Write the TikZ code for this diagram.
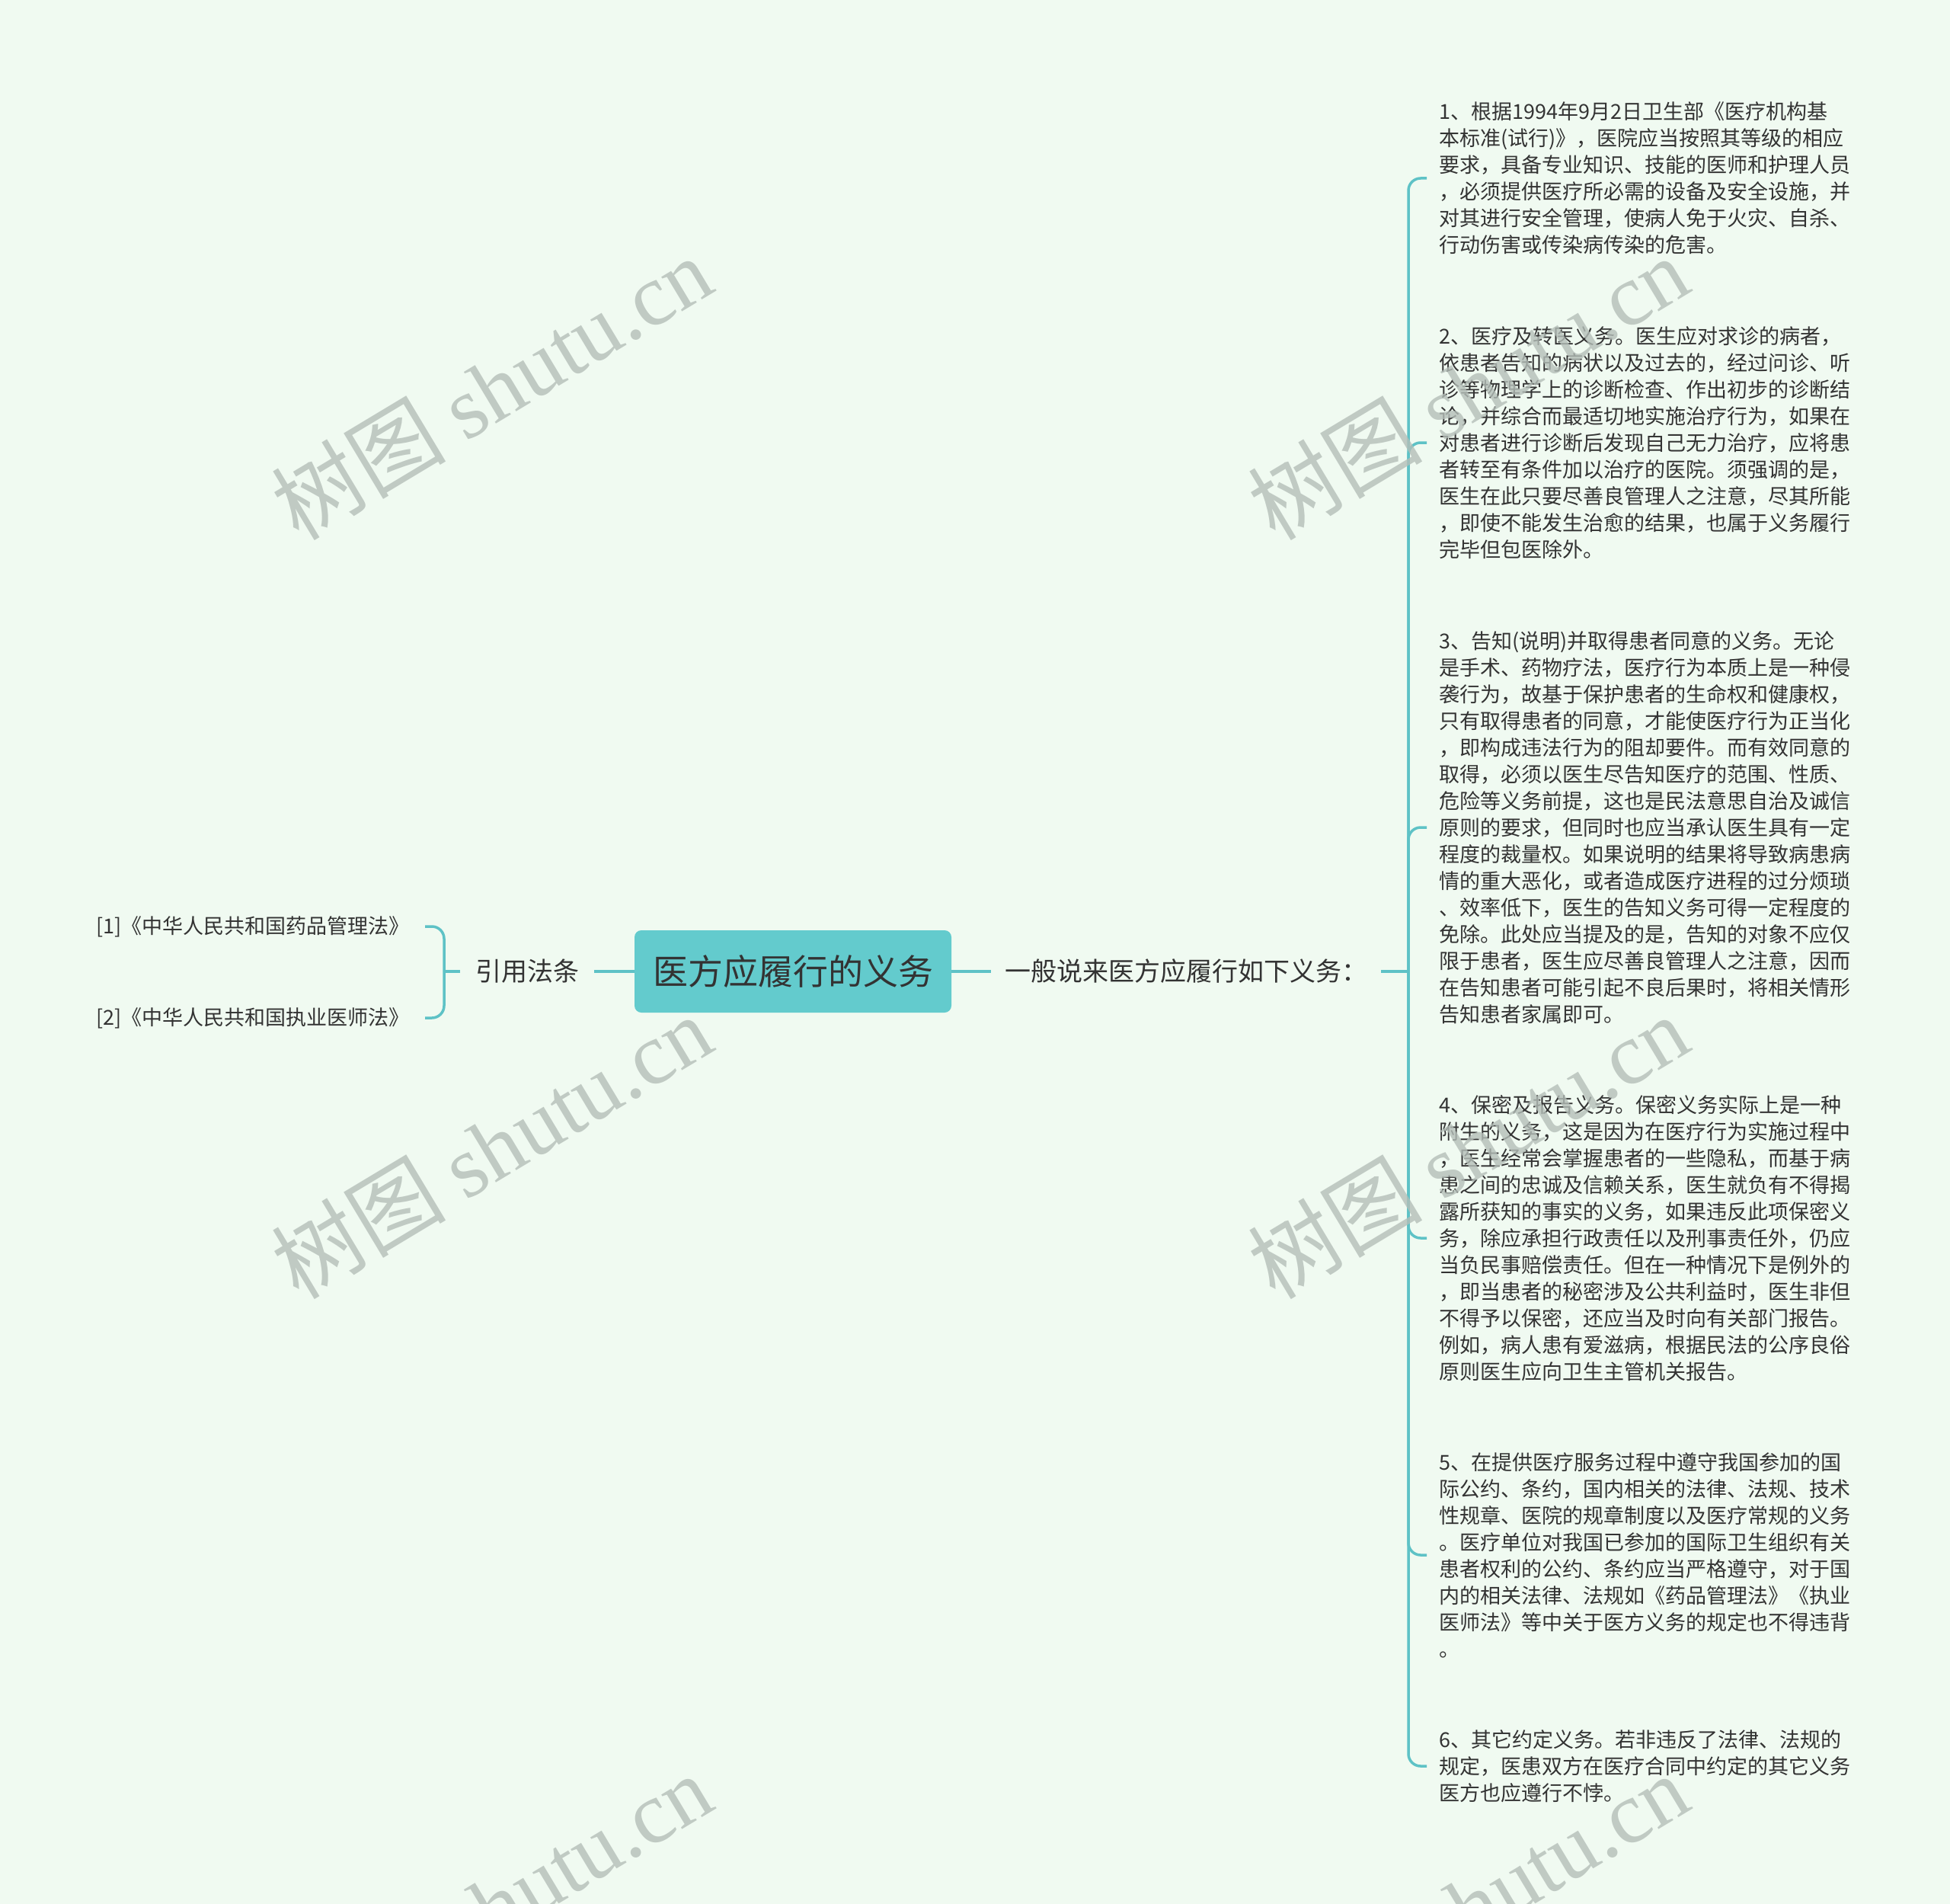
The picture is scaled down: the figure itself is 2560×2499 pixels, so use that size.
\documentclass[tikz,border=0pt]{standalone}
\usepackage{fontspec}
\setmainfont{Noto Sans CJK SC}
\newfontfamily\wmserif{Liberation Serif}
\definecolor{bgc}{RGB}{240,250,241}
\definecolor{boxc}{RGB}{99,203,205}
\definecolor{linec}{RGB}{94,194,198}
\definecolor{txtc}{RGB}{51,51,51}
\definecolor{wmc}{RGB}{180,190,184}
\tikzset{
  conn/.style={draw=linec, line width=3.5pt},
  elbow/.style={conn, rounded corners=16pt},
  para/.style={anchor=west, inner xsep=16pt, inner ysep=0pt, align=left, text=txtc, font=\fontsize{27}{35}\selectfont},
  leaf/.style={anchor=east, inner xsep=20pt, inner ysep=0pt, text=txtc, font=\fontsize{27}{35}\selectfont},
  mid/.style={anchor=west, inner ysep=0pt, text=txtc, font=\fontsize{34}{40}\selectfont},
  rootbox/.style={fill=boxc, rounded corners=9pt, minimum width=416pt, minimum height=108pt, text=txtc, font=\fontsize{46}{52}\selectfont},
  wm/.style={text=wmc, text opacity=0.8, rotate=31, inner sep=0pt, font=\fontsize{115}{125}\selectfont}
}
\begin{document}
\begin{tikzpicture}[x=1pt,y=-1pt]
\useasboundingbox (0,0) rectangle (2560,2499);
\fill[bgc] (0,0) rectangle (2560,2499);

\node[rootbox] (root) at (1041,1275) {医方应履行的义务};
\node[mid, inner xsep=20pt] (refs) at (604,1275) {引用法条};
\node[mid, inner xsep=18pt] (gen) at (1301,1275) {一般说来医方应履行如下义务：};

\node[leaf] (l1) at (558,1216) {[1]《中华人民共和国药品管理法》};
\node[leaf] (l2) at (558,1336) {[2]《中华人民共和国执业医师法》};

\coordinate (jl) at (583,1275);
\coordinate (jr) at (1849,1275);

\node[para] (p1) at (1873,234) {1、根据1994年9月2日卫生部《医疗机构基\\本标准(试行)》，医院应当按照其等级的相应\\要求，具备专业知识、技能的医师和护理人员\\，必须提供医疗所必需的设备及安全设施，并\\对其进行安全管理，使病人免于火灾、自杀、\\行动伤害或传染病传染的危害。};

\node[para] (p2) at (1873,581) {2、医疗及转医义务。医生应对求诊的病者，\\依患者告知的病状以及过去的，经过问诊、听\\诊等物理学上的诊断检查、作出初步的诊断结\\论，并综合而最适切地实施治疗行为，如果在\\对患者进行诊断后发现自己无力治疗，应将患\\者转至有条件加以治疗的医院。须强调的是，\\医生在此只要尽善良管理人之注意，尽其所能\\，即使不能发生治愈的结果，也属于义务履行\\完毕但包医除外。};

\node[para] (p3) at (1873,1086) {3、告知(说明)并取得患者同意的义务。无论\\是手术、药物疗法，医疗行为本质上是一种侵\\袭行为，故基于保护患者的生命权和健康权，\\只有取得患者的同意，才能使医疗行为正当化\\，即构成违法行为的阻却要件。而有效同意的\\取得，必须以医生尽告知医疗的范围、性质、\\危险等义务前提，这也是民法意思自治及诚信\\原则的要求，但同时也应当承认医生具有一定\\程度的裁量权。如果说明的结果将导致病患病\\情的重大恶化，或者造成医疗进程的过分烦琐\\、效率低下，医生的告知义务可得一定程度的\\免除。此处应当提及的是，告知的对象不应仅\\限于患者，医生应尽善良管理人之注意，因而\\在告知患者可能引起不良后果时，将相关情形\\告知患者家属即可。};

\node[para] (p4) at (1873,1625) {4、保密及报告义务。保密义务实际上是一种\\附生的义务，这是因为在医疗行为实施过程中\\，医生经常会掌握患者的一些隐私，而基于病\\患之间的忠诚及信赖关系，医生就负有不得揭\\露所获知的事实的义务，如果违反此项保密义\\务，除应承担行政责任以及刑事责任外，仍应\\当负民事赔偿责任。但在一种情况下是例外的\\，即当患者的秘密涉及公共利益时，医生非但\\不得予以保密，还应当及时向有关部门报告。\\例如，病人患有爱滋病，根据民法的公序良俗\\原则医生应向卫生主管机关报告。};

\node[para] (p5) at (1873,2041) {5、在提供医疗服务过程中遵守我国参加的国\\际公约、条约，国内相关的法律、法规、技术\\性规章、医院的规章制度以及医疗常规的义务\\。医疗单位对我国已参加的国际卫生组织有关\\患者权利的公约、条约应当严格遵守，对于国\\内的相关法律、法规如《药品管理法》《执业\\医师法》等中关于医方义务的规定也不得违背\\。};

\node[para] (p6) at (1873,2318) {6、其它约定义务。若非违反了法律、法规的\\规定，医患双方在医疗合同中约定的其它义务\\医方也应遵行不悖。};

\draw[conn] (refs.east) -- (root.west);
\draw[conn] (root.east) -- (gen.west);
\draw[conn] (gen.east) -- (jr);
\draw[conn] (refs.west) -- (jl);
\draw[elbow] (jl) |- (l1.east);
\draw[elbow] (jl) |- (l2.east);
\foreach \p in {p1,p2,p3,p4,p5,p6} {\draw[elbow] (jr) |- (\p.west);}

\node[wm] (w1) at (645,509) {树图 {\wmserif shutu.cn}};
\node[wm] (w2) at (1927,509) {树图 {\wmserif shutu.cn}};
\node[wm] (w3) at (645,1505) {树图 {\wmserif shutu.cn}};
\node[wm] (w4) at (1927,1505) {树图 {\wmserif shutu.cn}};
\node[wm] (w5) at (645,2501) {树图 {\wmserif shutu.cn}};
\node[wm] (w6) at (1927,2501) {树图 {\wmserif shutu.cn}};
\end{tikzpicture}
\end{document}
